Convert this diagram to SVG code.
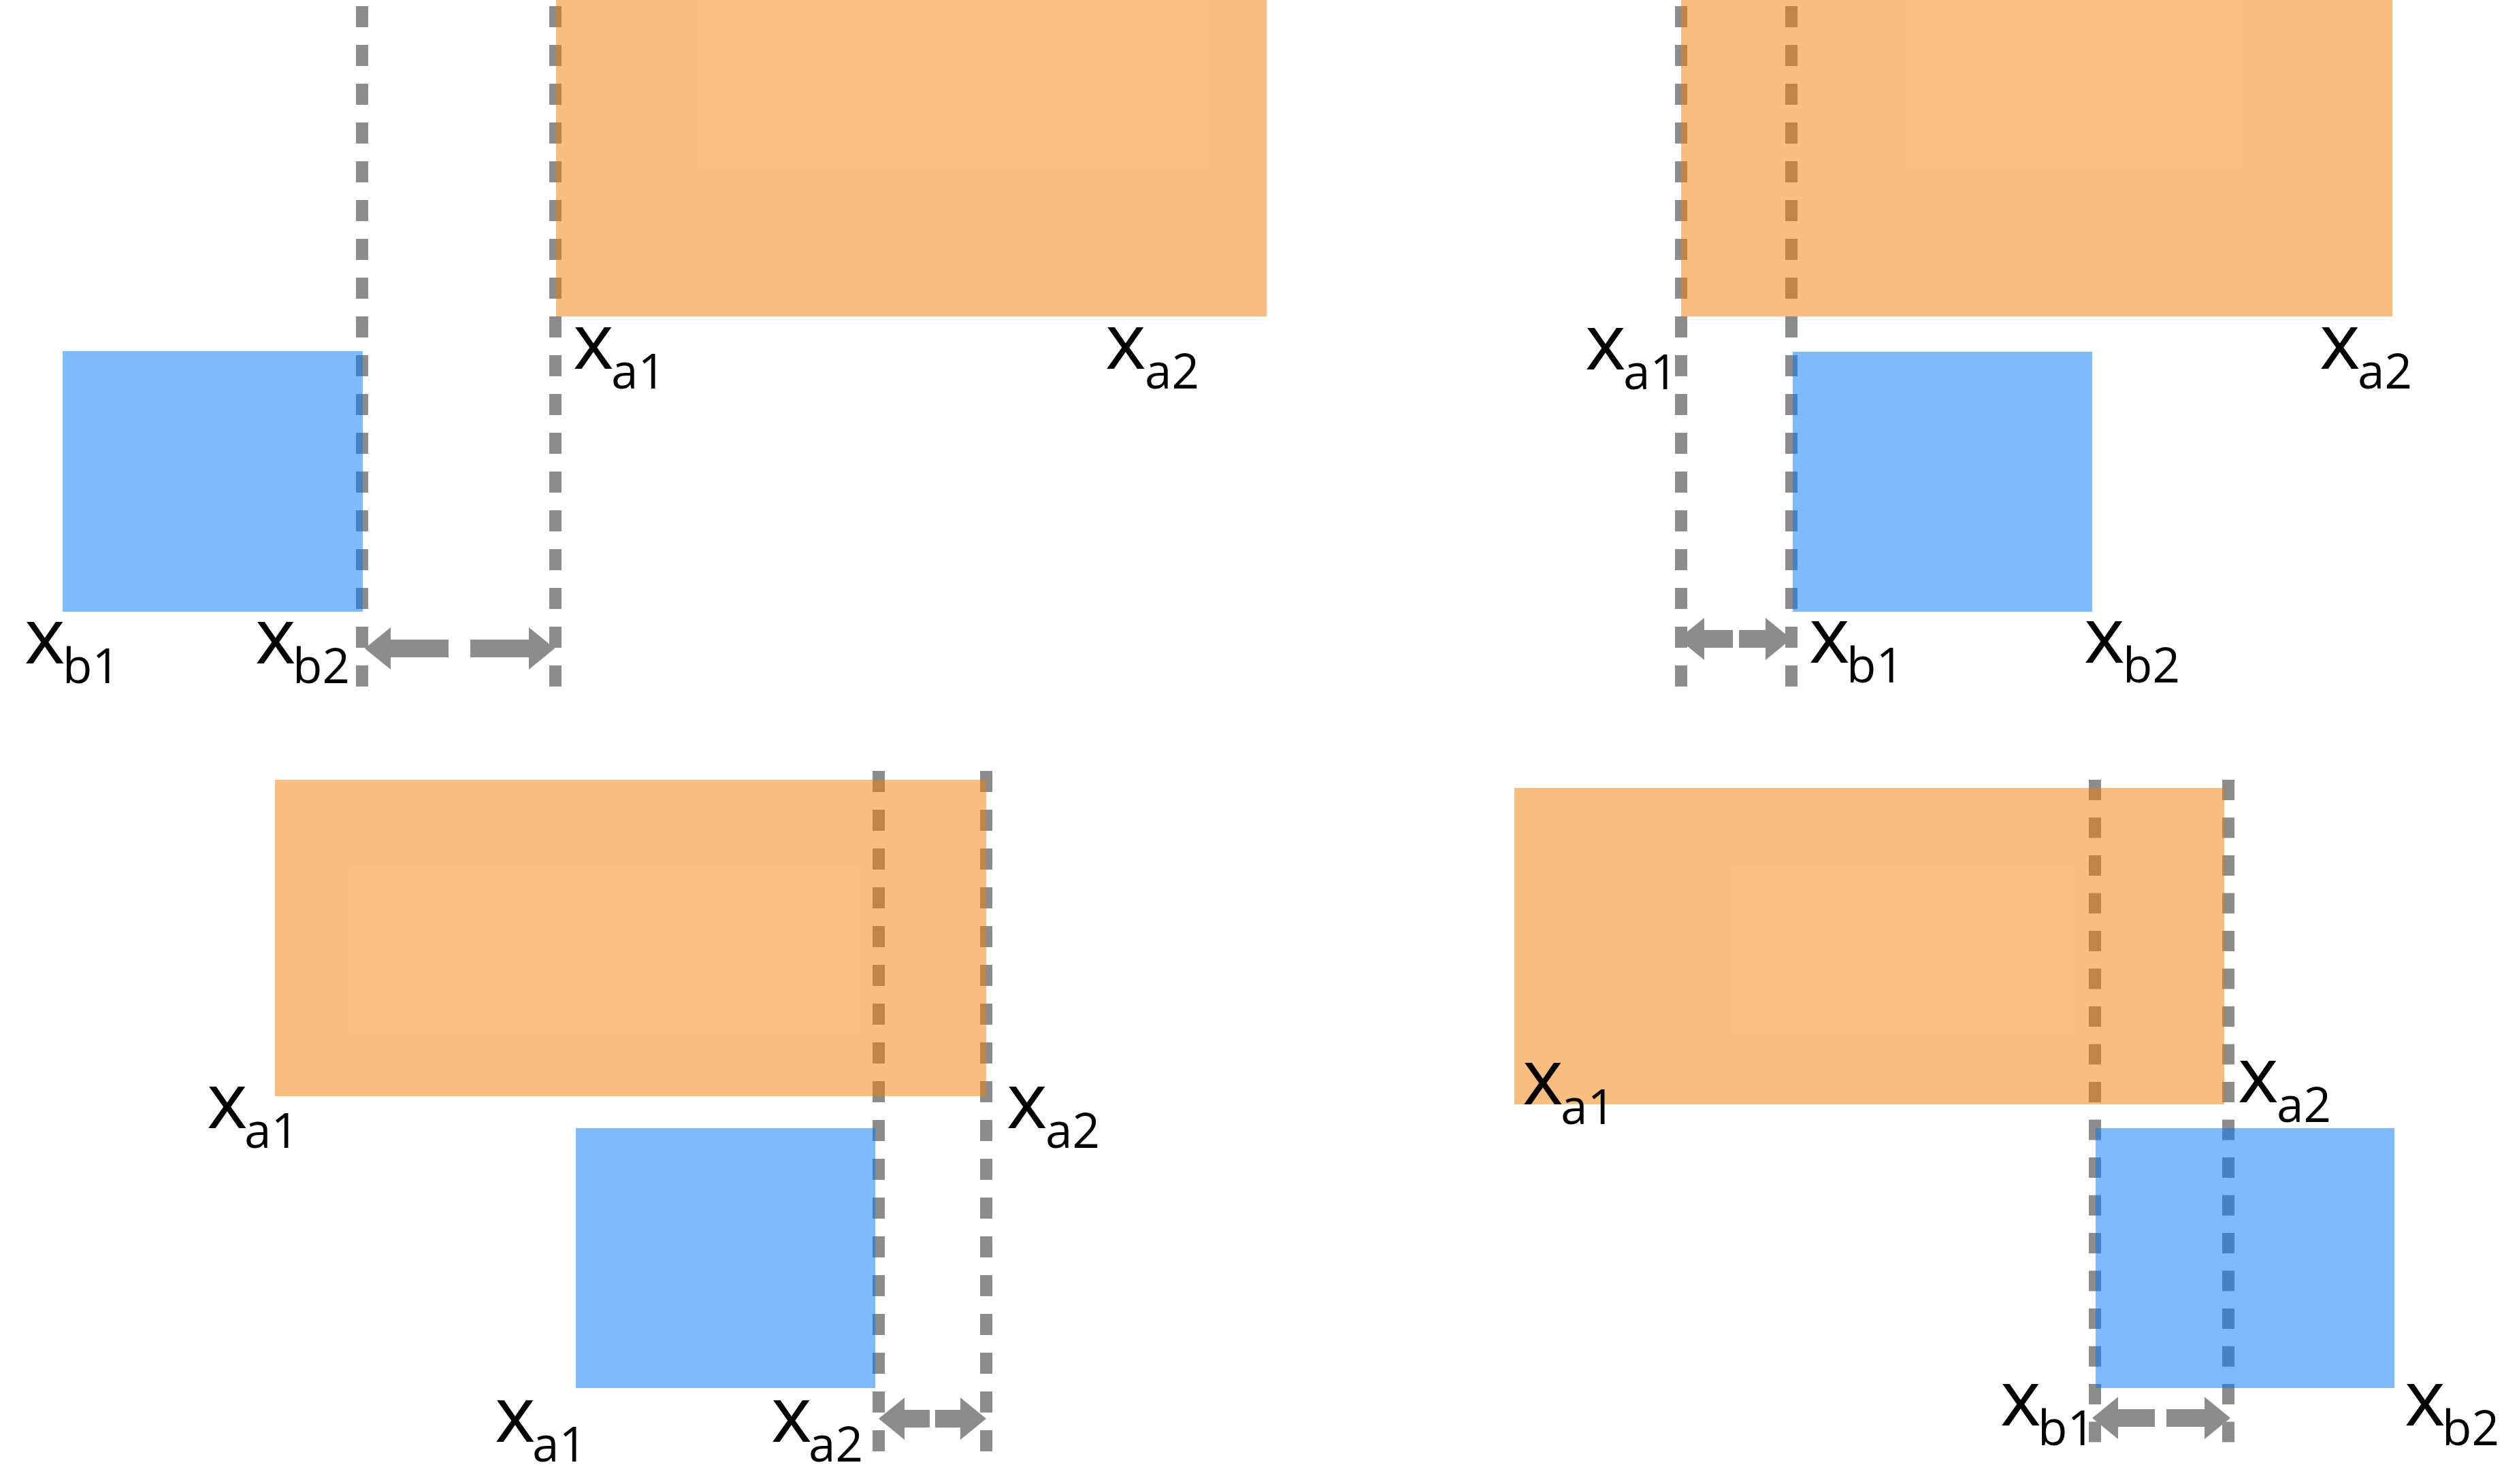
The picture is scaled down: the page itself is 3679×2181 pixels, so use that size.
<svg xmlns="http://www.w3.org/2000/svg" width="3679" height="2181" viewBox="0 0 3679 2181">
<style>
.bg{fill:#ffffff}
.ora{fill:#F47D00;fill-opacity:0.5}
.blu{fill:#0078F5;fill-opacity:0.5}
.dash{stroke:#8C8C8C;stroke-width:18;fill:none;stroke-dasharray:31 26}
.dash4{stroke-dasharray:30 25.5}
.arr{stroke:#8C8C8C;stroke-width:26;fill:none;marker-end:url(#head)}
.lbl{font-family:"Open Sans","Liberation Sans",sans-serif;font-size:114px;fill:#000}
.sub{font-size:71px}
</style>
<defs>
<marker id="head" markerUnits="userSpaceOnUse" markerWidth="40" markerHeight="64" refX="0" refY="31" orient="auto" viewBox="0 0 40 62">
<path d="M0,0 L38,31 L0,62 Z" fill="#8C8C8C"/>
</marker>
</defs>
<rect class="bg" x="0" y="0" width="3679" height="2181"/>
<g id="connectors">
<line class="dash" x1="532" y1="9" x2="532" y2="1009"/>
<line class="dash" x1="816" y1="9" x2="816" y2="1009"/>
<line class="dash" x1="2470" y1="9" x2="2470" y2="1009"/>
<line class="dash" x1="2632" y1="9" x2="2632" y2="1009"/>
<line class="dash" x1="1291" y1="1133" x2="1291" y2="2133"/>
<line class="dash" x1="1449" y1="1133" x2="1449" y2="2133"/>
<line class="dash dash4" x1="3078" y1="1146" x2="3078" y2="2120"/>
<line class="dash dash4" x1="3274" y1="1146" x2="3274" y2="2120"/>
<line class="arr" x1="659" y1="953" x2="574" y2="953"/>
<line class="arr" x1="691" y1="953" x2="777" y2="953"/>
<line class="arr" x1="2546" y1="939" x2="2504" y2="939"/>
<line class="arr" x1="2555" y1="939" x2="2594" y2="939"/>
<line class="arr" x1="1366" y1="2085" x2="1329" y2="2085"/>
<line class="arr" x1="1374" y1="2085" x2="1411" y2="2085"/>
<line class="arr" x1="3166" y1="2084" x2="3112" y2="2084"/>
<line class="arr" x1="3183" y1="2084" x2="3239" y2="2084"/>
</g>
<g id="panel1-a">
<rect class="ora" x="817" y="0" width="1044" height="465"/>
<text class="lbl" x="842" y="542">x<tspan class="sub" x="898" y="571">a1</tspan></text>
<text class="lbl" x="1624" y="542">x<tspan class="sub" x="1682" y="571">a2</tspan></text>
</g>
<g id="panel1-b">
<rect class="blu" x="92" y="516" width="441" height="383"/>
<text class="lbl" x="36" y="975">x<tspan class="sub" x="92" y="1004">b1</tspan></text>
<text class="lbl" x="375" y="975">x<tspan class="sub" x="430" y="1004">b2</tspan></text>
</g>
<g id="panel2-a">
<rect class="ora" x="2470" y="0" width="1045" height="465"/>
<text class="lbl" x="2329" y="543">x<tspan class="sub" x="2385" y="572">a1</tspan></text>
<text class="lbl" x="3408" y="542">x<tspan class="sub" x="3464" y="571">a2</tspan></text>
</g>
<g id="panel2-b">
<rect class="blu" x="2634" y="517" width="440" height="382"/>
<text class="lbl" x="2658" y="974">x<tspan class="sub" x="2713" y="1003">b1</tspan></text>
<text class="lbl" x="3062" y="974">x<tspan class="sub" x="3119" y="1003">b2</tspan></text>
</g>
<g id="panel3-a">
<rect class="ora" x="404" y="1146" width="1045" height="465"/>
<text class="lbl" x="304" y="1658">x<tspan class="sub" x="359" y="1687">a1</tspan></text>
<text class="lbl" x="1479" y="1658">x<tspan class="sub" x="1536" y="1687">a2</tspan></text>
</g>
<g id="panel3-b">
<rect class="blu" x="846" y="1658" width="440" height="382"/>
<text class="lbl" x="727" y="2119">x<tspan class="sub" x="782" y="2148">a1</tspan></text>
<text class="lbl" x="1133" y="2119">x<tspan class="sub" x="1188" y="2148">a2</tspan></text>
</g>
<g id="panel4-a">
<rect class="ora" x="2225" y="1158" width="1043" height="465"/>
<text class="lbl" x="2237" y="1623">x<tspan class="sub" x="2293" y="1652">a1</tspan></text>
<text class="lbl" x="3288" y="1620">x<tspan class="sub" x="3345" y="1649">a2</tspan></text>
</g>
<g id="panel4-b">
<rect class="blu" x="3079" y="1658" width="439" height="382"/>
<text class="lbl" x="2939" y="2095">x<tspan class="sub" x="2994" y="2124">b1</tspan></text>
<text class="lbl" x="3533" y="2095">x<tspan class="sub" x="3588" y="2124">b2</tspan></text>
</g>
</svg>
